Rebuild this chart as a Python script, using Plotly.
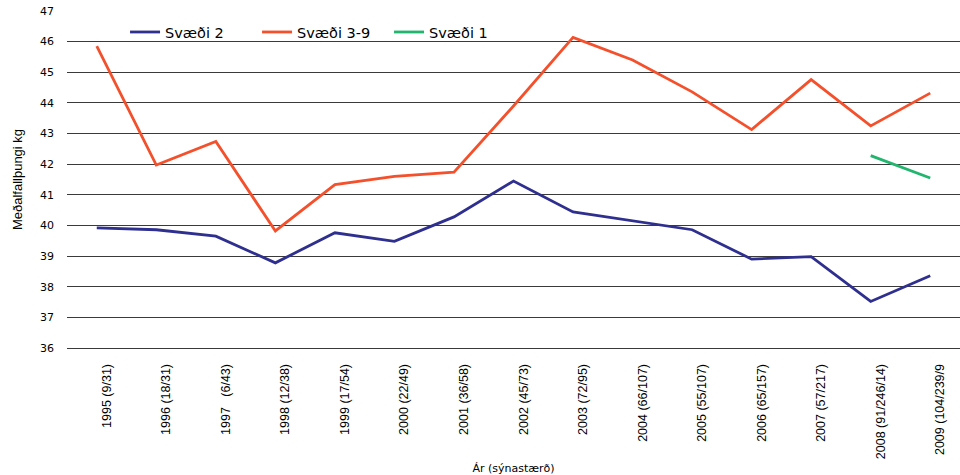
import plotly.graph_objects as go

categories = ["1995 (9/31)", "1996 (18/31)", "1997   (6/43)", "1998 (12/38)", "1999 (17/54)",
              "2000 (22/49)", "2001 (36/58)", "2002 (45/73)", "2003 (72/95)", "2004 (66/107)",
              "2005 (55/107)", "2006 (65/157)", "2007 (57/217)", "2008 (91/246/14)", "2009 (104/239/9"]
svaedi_2 = [39.92, 39.86, 39.65, 38.78, 39.76, 39.48, 40.28, 41.45, 40.44, 40.15,
            39.86, 38.9, 38.98, 37.52, 38.36]
svaedi_3_9 = [45.85, 41.97, 42.74, 39.82, 41.33, 41.6, 41.74, 43.9, 46.14, 45.4,
              44.36, 43.13, 44.76, 43.25, 44.32]
svaedi_1 = [None] * 13 + [42.28, 41.55]
y_ticks = list(range(36, 48))

fig = go.Figure()
fig.add_trace(go.Scatter(x=categories, y=svaedi_2, mode="lines", name="Svæði 2",
                         line=dict(color="#2E2F8F", width=2.8)))
fig.add_trace(go.Scatter(x=categories, y=svaedi_3_9, mode="lines", name="Svæði 3-9",
                         line=dict(color="#F4502B", width=2.8)))
fig.add_trace(go.Scatter(x=categories, y=svaedi_1, mode="lines", name="Svæði 1",
                         line=dict(color="#22B56E", width=2.8)))

fig.update_layout(
    width=960, height=475,
    margin=dict(l=67, r=0, t=11, b=127),
    plot_bgcolor="white", paper_bgcolor="white",
    font=dict(family="DejaVu Sans", color="#000000", size=11),
    showlegend=True,
    legend=dict(orientation="h", x=0.065, y=0.985, xanchor="left", yanchor="top",
                font=dict(family="DejaVu Sans", size=14.5), bgcolor="rgba(0,0,0,0)",
                itemwidth=30, tracegroupgap=0, entrywidth=87, entrywidthmode="pixels"),
    xaxis=dict(type="category", range=[-0.5, 14.5], tickangle=-90, showgrid=False,
               zeroline=False, showline=True, linecolor="#3a3a3a", linewidth=1,
               ticks="", automargin=False,
               ticklabelshift=10, ticklabelstandoff=10,
               tickfont=dict(family="Liberation Sans Narrow, Liberation Sans", size=12.5),
               title=dict(text="Ár (sýnastærð)", font=dict(family="DejaVu Sans", size=11),
                          standoff=8)),
    yaxis=dict(range=[36, 47], tickvals=y_ticks, showgrid=True, gridcolor="#3a3a3a",
               gridwidth=1, zeroline=False, showline=False, ticks="", automargin=False,
               tickfont=dict(family="DejaVu Sans", size=11), ticklabelstandoff=12,
               title=dict(text="Meðalfallþungi kg",
                          font=dict(family="Liberation Sans Narrow, Liberation Sans", size=13),
                          standoff=14)),
)

fig.write_html("out.html", config={"displayModeBar": False},
               post_script="document.body.style.margin='0';")
